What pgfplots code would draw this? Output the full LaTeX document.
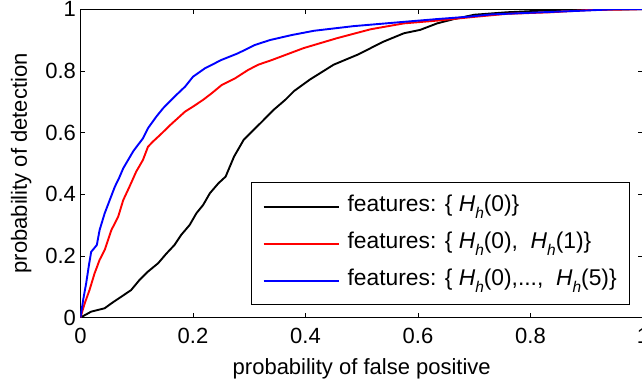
\documentclass[border=0pt]{standalone}
\usepackage{fontspec}
\setmainfont{Liberation Sans}
\usepackage{pgfplots}
\pgfplotsset{compat=1.18}
\newcommand\Hh{\textit{H}\raisebox{-7pt}{\fontsize{15.5}{15.5}\selectfont\textit{h}}}
\begin{document}
\begin{tikzpicture}[font=\fontsize{22}{26}\selectfont]
\begin{axis}[name=ax, scale only axis, width=562.5pt, height=308.3pt,
  xmin=0, xmax=1, ymin=0, ymax=1,
  xtick={0,0.2,0.4,0.6,0.8,1}, ytick={0,0.2,0.4,0.6,0.8,1},
  tick align=inside, major tick length=5pt,
  axis line style={line width=0.8pt},
  every tick/.style={black, line width=0.6pt},
  /pgf/number format/assume math mode=true,
  xticklabel style={yshift=-7pt},
  yticklabel style={xshift=-1pt},
  xlabel={probability of false positive},
  ylabel={probability of detection},
  xlabel style={yshift=-8pt},
  ylabel style={yshift=7pt},
  legend cell align=left,
  legend image code/.code={\draw[#1] (0pt,0pt) -- (75pt,0pt);},
  legend style={at={(0.977,0.0405)}, anchor=south east, draw=black, line width=0.8pt,
    font=\fontsize{22.8}{27}\selectfont,
    inner xsep=11pt, inner ysep=10.5pt, row sep=10pt,
    /tikz/every odd column/.append style={column sep=6pt},
    nodes={inner sep=2pt, text height=16pt, text depth=7pt}},
]
\addplot[black, line width=1.9pt] coordinates {
(0,0) (0.019,0.019) (0.043,0.03) (0.055,0.046) (0.073,0.068) (0.09,0.089)
(0.105,0.122) (0.12,0.149) (0.138,0.176) (0.153,0.208) (0.167,0.235)
(0.179,0.268) (0.194,0.3) (0.206,0.338) (0.218,0.365) (0.23,0.403)
(0.245,0.435) (0.258,0.457) (0.273,0.522) (0.29,0.576) (0.302,0.598)
(0.323,0.636) (0.343,0.673) (0.364,0.706) (0.38,0.735) (0.408,0.772)
(0.45,0.82) (0.492,0.852) (0.539,0.895) (0.575,0.922) (0.604,0.933)
(0.634,0.954) (0.664,0.968) (0.7,0.982) (0.758,0.99) (0.85,0.998) (1,1)};
\addlegendentry{features: \{ \Hh(0)\}}
\addplot[red, line width=1.9pt] coordinates {
(0,0) (0.0075,0.046) (0.016,0.089) (0.025,0.143) (0.034,0.187) (0.043,0.219)
(0.055,0.284) (0.067,0.327) (0.076,0.381) (0.087,0.424) (0.099,0.473)
(0.111,0.511) (0.12,0.554) (0.129,0.571) (0.142,0.593) (0.16,0.625)
(0.186,0.668) (0.2,0.684) (0.218,0.706) (0.233,0.727) (0.251,0.754)
(0.275,0.776) (0.298,0.803) (0.316,0.82) (0.34,0.835) (0.397,0.874)
(0.456,0.906) (0.516,0.935) (0.575,0.954) (0.634,0.963) (0.699,0.975)
(0.758,0.985) (0.836,0.99) (0.9,0.997) (1,1)};
\addlegendentry{features: \{ \Hh(0),\ \ \Hh(1)\}}
\addplot[blue, line width=1.9pt] coordinates {
(0,0) (0.005,0.06) (0.01,0.11) (0.015,0.17) (0.019,0.213) (0.029,0.235)
(0.034,0.284) (0.043,0.338) (0.052,0.381) (0.061,0.424) (0.068,0.45)
(0.076,0.484) (0.085,0.512) (0.094,0.54) (0.111,0.581) (0.12,0.614)
(0.135,0.652) (0.147,0.679) (0.167,0.716) (0.186,0.749) (0.2,0.781)
(0.221,0.808) (0.25,0.835) (0.28,0.857) (0.31,0.884) (0.337,0.9)
(0.375,0.916) (0.415,0.93) (0.485,0.945) (0.575,0.959) (0.634,0.968)
(0.692,0.976) (0.73,0.983) (0.82,0.99) (0.89,0.995) (0.95,1) (1,1)};
\addlegendentry{features: \{ \Hh(0),...,\ \ \Hh(5)\}}
\end{axis}
\pgfresetboundingbox
\path[use as bounding box] ([xshift=-80.5pt,yshift=-63.5pt]ax.south west)
  rectangle ([xshift=561.5pt,yshift=317.5pt]ax.south west);
\end{tikzpicture}
\end{document}
